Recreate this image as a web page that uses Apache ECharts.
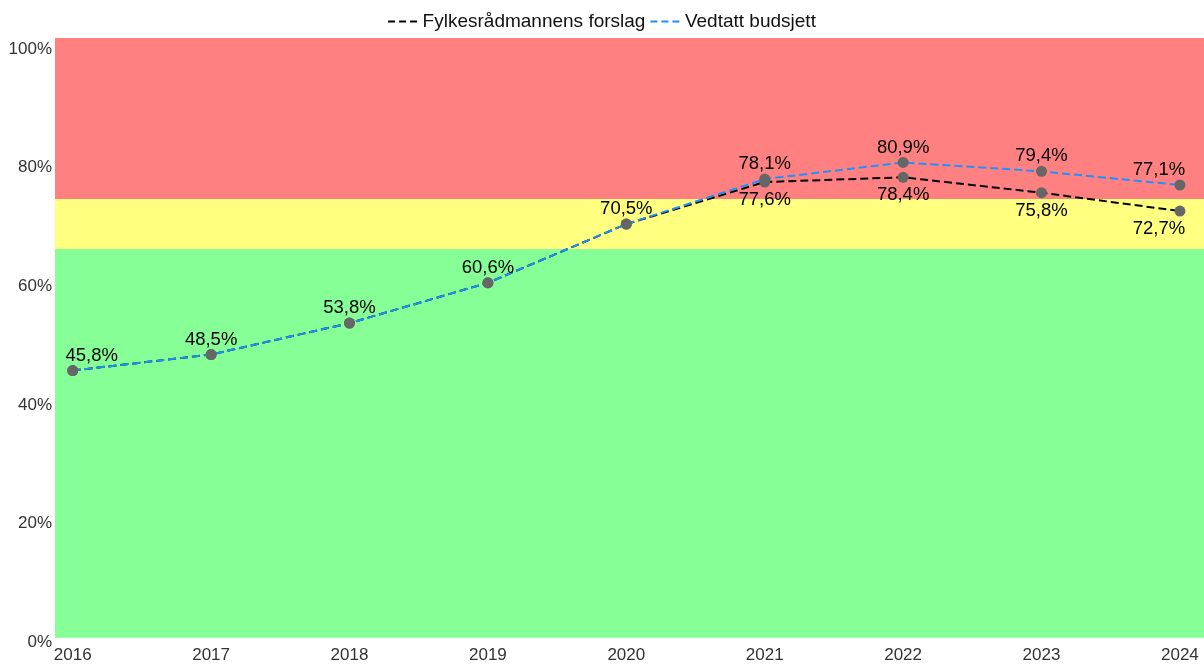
<!DOCTYPE html>
<html>
<head>
<meta charset="utf-8">
<script src="https://cdn.jsdelivr.net/npm/echarts@6/dist/echarts.min.js"></script>
<style>html,body{margin:0;padding:0;background:#fff}#c{width:1204px;height:664px}</style>
</head>
<body>
<div id="c"></div>
<script>
const years = [2016, 2017, 2018, 2019, 2020, 2021, 2022, 2023, 2024];
const forslag = [45.8, 48.5, 53.8, 60.6, 70.5, 77.6, 78.4, 75.8, 72.7];
const vedtatt = [45.8, 48.5, 53.8, 60.6, 70.5, 78.1, 80.9, 79.4, 77.1];
const yTicks = [0, 20, 40, 60, 80, 100];
const bands = [
  { from: 0.7, to: 66.3, color: 'rgb(133,255,150)' },
  { from: 66.3, to: 74.75, color: 'rgb(255,255,128)' },
  { from: 74.75, to: 101.9, color: 'rgb(255,128,128)' }
];
const seriesNames = ['Fylkesrådmannens forslag', 'Vedtatt budsjett'];

const FONT = '"Liberation Sans", Arial, sans-serif';
const fmt = v => v.toFixed(1).replace('.', ',') + '%';
function edgeOffset(i) {
  if (i === 0) return [19, 0];
  if (i === years.length - 1) return [-21, 0];
  return [0, 0];
}
const blackData = years.map((y, i) => ({
  value: [y, forslag[i]],
  label: {
    show: forslag[i] !== vedtatt[i],
    position: 'bottom', distance: 3, offset: edgeOffset(i)
  }
}));
const blueData = years.map((y, i) => ({
  value: [y, vedtatt[i]],
  label: { show: true, position: 'top', distance: 0, offset: edgeOffset(i) }
}));
const labelStyle = { color: '#000', fontSize: 18.5, fontFamily: FONT, formatter: p => fmt(p.value[1]) };
const dashIcon = 'path://M0,0h7v2h-7z M11,0h7v2h-7z M22,0h7v2h-7z';

const chart = echarts.init(document.getElementById('c'), null, { renderer: 'canvas' });
chart.setOption({
  animation: false,
  backgroundColor: '#fff',
  textStyle: { fontFamily: FONT },
  legend: {
    top: 7, left: 'center', itemGap: 5, itemWidth: 30, itemHeight: 2,
    textStyle: { fontSize: 19, color: '#111', fontFamily: FONT },
    data: [
      { name: seriesNames[0], icon: dashIcon, itemStyle: { color: '#000' } },
      { name: seriesNames[1], icon: dashIcon, itemStyle: { color: '#1e90ff' } }
    ]
  },
  grid: { left: 55, right: 0, top: 38, bottom: 22, containLabel: false, outerBoundsMode: 'none' },
  xAxis: {
    type: 'value', min: 2015.872, max: 2024.174,
    axisLine: { show: false }, axisTick: { show: false }, splitLine: { show: false },
    axisLabel: { customValues: years, formatter: v => String(v), fontSize: 17, color: '#333', margin: 5, fontFamily: FONT }
  },
  yAxis: {
    type: 'value', min: 0, max: 101.9,
    axisLine: { show: false }, axisTick: { show: false }, splitLine: { show: false },
    axisLabel: { customValues: yTicks, formatter: v => v + '%', fontSize: 17, color: '#333', margin: 3, fontFamily: FONT }
  },
  series: [
    {
      name: 'bands', type: 'line', data: [], z: 1, silent: true,
      markArea: {
        silent: true,
        data: bands.map(b => [{ yAxis: b.from, itemStyle: { color: b.color } }, { yAxis: b.to }])
      }
    },
    {
      name: seriesNames[0], type: 'line', z: 3, data: blackData,
      symbol: 'circle', symbolSize: 11,
      itemStyle: { color: '#666' },
      lineStyle: { color: '#000', width: 2, type: [8, 4] },
      label: labelStyle
    },
    {
      name: seriesNames[1], type: 'line', z: 4, data: blueData,
      symbol: 'circle', symbolSize: 11,
      itemStyle: { color: '#666' },
      lineStyle: { color: '#1e90ff', width: 2, type: [8, 4] },
      label: labelStyle
    }
  ]
});
</script>
</body>
</html>
